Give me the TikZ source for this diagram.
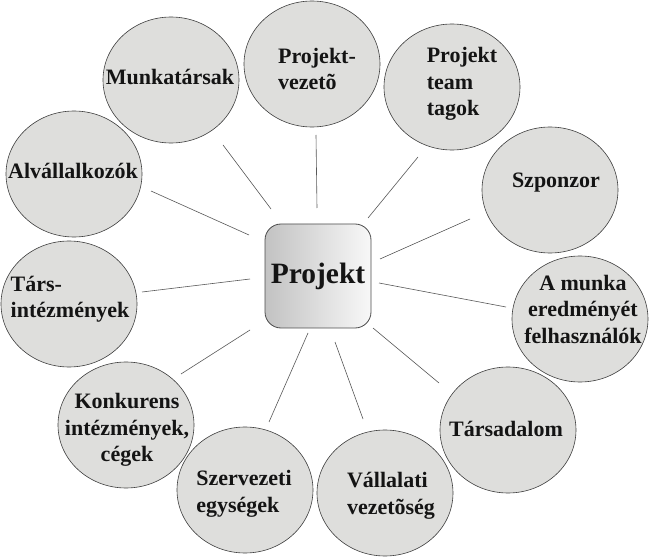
\documentclass[tikz,border=0pt]{standalone}
\usepackage{fontspec}
\setmainfont{Liberation Serif}[BoldFont={Liberation Serif Bold}]
\usetikzlibrary{shapes.geometric,calc}
\definecolor{circfill}{HTML}{DEDEDC}
\definecolor{hubleft}{HTML}{C2C2C2}
\definecolor{hubright}{HTML}{F8F8F8}
\definecolor{ink}{HTML}{141414}
\begin{document}
\begin{tikzpicture}[x=1pt,y=-1pt,
 bubble/.style={ellipse,draw=black!75,fill=circfill,line width=0.6pt,minimum width=136pt,minimum height=126pt,inner sep=0pt},
 txt/.style={font=\fontsize{22}{26.5}\selectfont\bfseries,inner sep=0pt,text=ink},
 spoke/.style={draw=black!65,line width=0.6pt},
 hub/.style={rounded corners=16pt,draw=black!70,line width=0.8pt,left color=hubleft,right color=hubright,minimum width=106pt,minimum height=104pt,inner sep=0pt,text=ink,font=\fontsize{29.5}{32}\selectfont\bfseries}]
\useasboundingbox (0,0) rectangle (649,559);
\fill[white] (0,0) rectangle (649,559);

% hub
\node[hub] (P) at (318,276) {Projekt};

% bubbles
\node[bubble] (PV) at (312,64) {};
\node[bubble] (PT) at (452,87) {};
\node[bubble] (SZ) at (550,190) {};
\node[bubble] (AM) at (580,319) {};
\node[bubble] (TD) at (508,430) {};
\node[bubble] (VV) at (385,493) {};
\node[bubble] (SE) at (245,490) {};
\node[bubble] (KO) at (126,425) {};
\node[bubble] (TI) at (69,304) {};
\node[bubble] (AL) at (74,174) {};
\node[bubble] (MU) at (171,80) {};

% texts
\node[txt,align=left] (tPV) at ($(PV)+(5,5)$) {Projekt-\\vezetõ};
\node[txt,align=left] (tPT) at ($(PT)+(10,-3)$) {Projekt\\team\\tagok};
\node[txt] (tSZ) at ($(SZ)+(6,-7)$) {Szponzor};
\node[txt,align=center] (tAM) at ($(AM)+(3,-10)$) {A munka\\eredményét\\felhasználók};
\node[txt] (tTD) at ($(TD)+(-2,-1)$) {Társadalom};
\node[txt,align=left] (tVV) at ($(VV)+(6,3)$) {Vállalati\\vezetõség};
\node[txt,align=left] (tSE) at ($(SE)+(-1,4)$) {Szervezeti\\egységek};
\node[txt,align=center] (tKO) at ($(KO)+(1,5)$) {Konkurens\\intézmények,\\cégek};
\node[txt,align=left] (tTI) at ($(TI)+(1,-5)$) {Társ-\\intézmények};
\node[txt] (tAL) at ($(AL)+(-1,-3)$) {Alvállalkozók};
\node[txt] (tMU) at ($(MU)+(-1,-3)$) {Munkatársak};

% spoke ends
\coordinate (aMU) at (223,145); \coordinate (bMU) at (271,209);
\coordinate (aAL) at (151,191); \coordinate (bAL) at (249,235);
\coordinate (aTI) at (142,292); \coordinate (bTI) at (250,279);
\coordinate (aKO) at (181,374); \coordinate (bKO) at (250,330);
\coordinate (aSE) at (269,422); \coordinate (bSE) at (308,333);
\coordinate (aVV) at (363,419); \coordinate (bVV) at (335,342);
\coordinate (aTD) at (439,383); \coordinate (bTD) at (373,328);
\coordinate (aAM) at (506,307); \coordinate (bAM) at (379,283);
\coordinate (aSZ) at (470,219); \coordinate (bSZ) at (380,259);
\coordinate (aPT) at (418,157); \coordinate (bPT) at (368,218);
\coordinate (aPV) at (316,135); \coordinate (bPV) at (317,208);

\foreach \s in {MU,AL,TI,KO,SE,VV,TD,AM,SZ,PT,PV}
  \draw[spoke] (a\s) -- (b\s);
\end{tikzpicture}
\end{document}
